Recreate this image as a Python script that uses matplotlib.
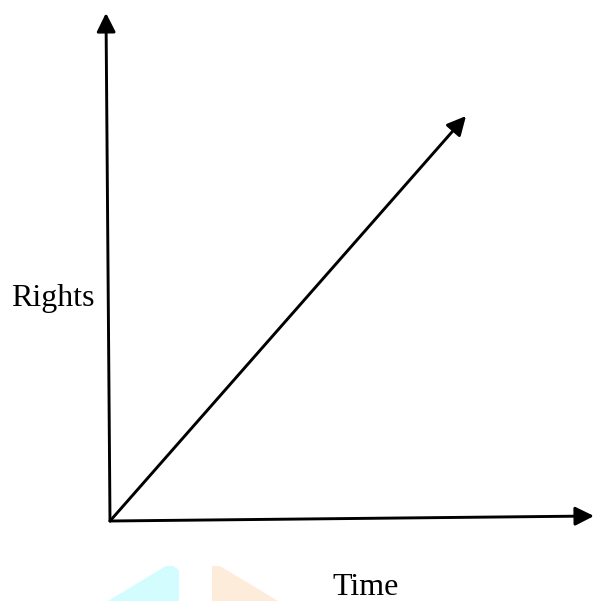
import matplotlib
matplotlib.use("Agg")
import matplotlib.pyplot as plt

# Diagram data (pixel-like coordinate system, y grows downward)
origin = (110, 521)
axis_end_rights = (106, 13)     # vertical axis arrow tip
axis_end_time = (594, 516)      # horizontal axis arrow tip
trend_end = (466, 116)          # diagonal trend arrow tip

axis_labels = ["Rights", "Time"]
label_positions_x = [11, 332]
label_positions_y = [306, 595]

# faint decorative watermark shapes at the bottom
cyan_x = [108, 166, 173, 179, 179]
cyan_y = [601, 566, 566, 570, 601]
orange_x = [212, 212, 220, 278]
orange_y = [601, 566, 566, 601]

fig = plt.figure(figsize=(5.94, 6.01), dpi=100)
ax = fig.add_axes([0, 0, 1, 1])
ax.set_xlim(0, 594)
ax.set_ylim(601, 0)
ax.axis("off")

ax.fill(cyan_x, cyan_y, color="#d2fcfe", lw=0, zorder=1)
ax.fill(orange_x, orange_y, color="#feecdb", lw=0, zorder=1)

arrow_kw = dict(arrowstyle="-|>,head_length=0.6,head_width=0.3",
                mutation_scale=19, lw=2.1, color="black",
                shrinkA=0, shrinkB=0)
for tip in (axis_end_rights, axis_end_time, trend_end):
    ax.annotate("", xy=tip, xytext=origin, arrowprops=arrow_kw, zorder=3)

for lab, x, y in zip(axis_labels, label_positions_x, label_positions_y):
    ax.text(x, y, lab, fontsize=23, family="Liberation Serif",
            ha="left", va="baseline", color="black")

fig.savefig("out.png", dpi=100)
